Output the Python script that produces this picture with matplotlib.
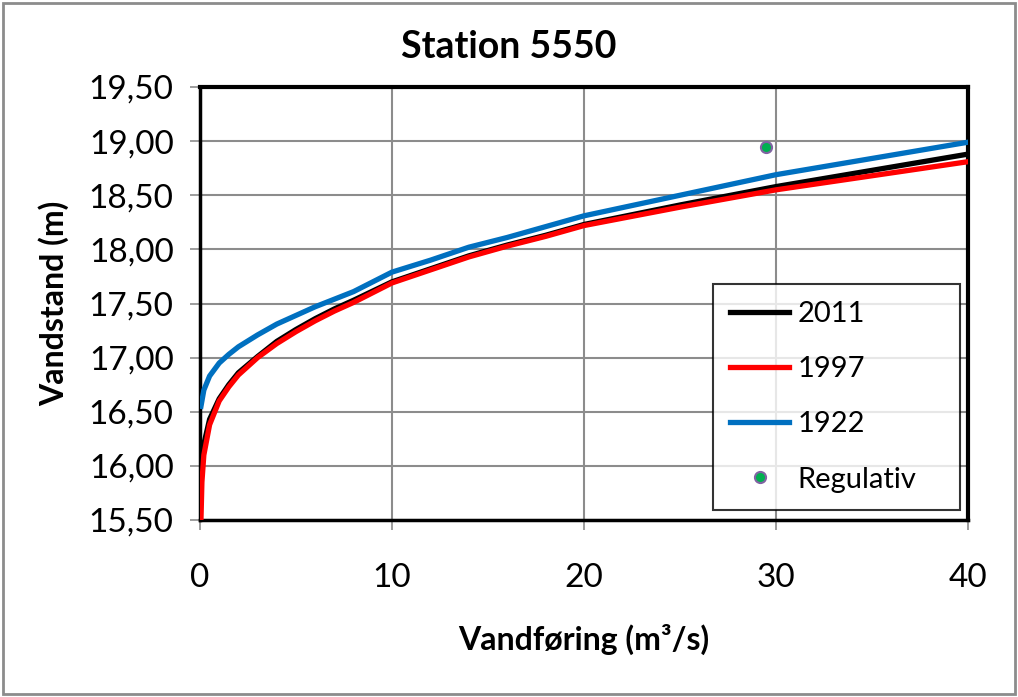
import numpy as np
import matplotlib.pyplot as plt
from matplotlib.patches import Rectangle
from matplotlib.ticker import FuncFormatter

# Aflæste værdier fra figuren
q_2011 = [0.0, 0.05, 0.2, 0.5, 1.0, 1.5, 2.0, 3.0, 4.0, 5.0, 6.0, 7.0, 8.0, 10.0,
          12.0, 14.0, 16.0, 18.0, 20.0, 25.0, 30.0, 35.0, 40.0]
h_2011 = [15.95, 16.05, 16.2, 16.43, 16.62, 16.75, 16.86, 17.01, 17.15, 17.26, 17.36,
          17.45, 17.53, 17.70, 17.82, 17.94, 18.04, 18.13, 18.23, 18.41, 18.58, 18.73, 18.88]

q_1997 = [0.05, 0.1, 0.2, 0.5, 1.0, 1.5, 2.0, 3.0, 4.0, 5.0, 6.0, 7.0, 8.0, 10.0,
          12.0, 14.0, 16.0, 18.0, 20.0, 25.0, 30.0, 35.0, 40.0]
h_1997 = [15.5, 15.85, 16.1, 16.38, 16.6, 16.73, 16.84, 17.0, 17.13, 17.24, 17.34,
          17.43, 17.51, 17.69, 17.81, 17.93, 18.03, 18.12, 18.22, 18.39, 18.55, 18.68, 18.81]

q_1922 = [0.05, 0.2, 0.5, 1.0, 1.5, 2.0, 3.0, 4.0, 5.0, 6.0, 7.0, 8.0, 10.0,
          12.0, 14.0, 16.0, 18.0, 20.0, 25.0, 30.0, 35.0, 40.0]
h_1922 = [16.55, 16.7, 16.83, 16.95, 17.03, 17.1, 17.21, 17.31, 17.39, 17.47, 17.54,
          17.61, 17.79, 17.90, 18.02, 18.11, 18.21, 18.31, 18.50, 18.69, 18.84, 18.99]

q_reg = [29.5]
h_reg = [18.95]

plt.rcParams['font.family'] = ['Lato', 'DejaVu Sans']

fig = plt.figure(figsize=(10.18, 6.97), dpi=100)
ax = fig.add_axes([200 / 1018, 1 - 520 / 697, 768 / 1018, 433 / 697])

ax.plot(q_1922, h_1922, color='#0070c0', lw=3.8, label='1922', zorder=3)
ax.plot(q_2011, h_2011, color='black', lw=3.8, label='2011', zorder=3)
ax.plot(q_1997, h_1997, color='#ff0000', lw=3.8, label='1997', zorder=4)
ax.plot(q_reg, h_reg, 'o', ms=8, mfc='#00b050', mec='#8064a2', mew=1.5,
        label='Regulativ', zorder=5)

ax.set_xlim(0, 40)
ax.set_ylim(15.5, 19.5)
ax.set_xticks(np.arange(0, 41, 10))
ax.set_yticks(np.arange(15.5, 19.51, 0.5))
ax.yaxis.set_major_formatter(FuncFormatter(lambda v, p: f'{v:.2f}'.replace('.', ',')))
ax.grid(True, color='#8c8c8c', lw=1.5)
ax.set_axisbelow(True)
ax.tick_params(labelsize=24, length=7, color='#8c8c8c', width=1.2)
ax.tick_params(axis='y', pad=12)
ax.tick_params(axis='x', pad=24)
for s in ax.spines.values():
    s.set_color('black')
    s.set_linewidth(2.5)
ax.spines['top'].set_linewidth(3)
ax.spines['right'].set_linewidth(3)

fig.text(0.5, 1 - 47 / 697, 'Station 5550', fontsize=27, fontweight='bold',
         ha='center', va='center')
ax.set_xlabel('Vandføring (m³/s)', fontsize=23, fontweight='bold', labelpad=22)
ax.set_ylabel('Vandstand (m)', fontsize=23, fontweight='bold', labelpad=14)

h, l = ax.get_legend_handles_labels()
order = [1, 2, 0, 3]
leg = ax.legend([h[i] for i in order], [l[i] for i in order],
                loc='upper left', bbox_to_anchor=(513 / 768, 236 / 433, 247 / 768, 0.001),
                mode='expand', fontsize=21,
                frameon=True, fancybox=False, edgecolor='black', borderaxespad=0,
                labelspacing=1.0, handlelength=2.0, handletextpad=0.3, borderpad=0.6)
leg.get_frame().set_linewidth(1.5)

fig.patches.append(Rectangle((0.003, 0.004), 0.994, 0.992, transform=fig.transFigure,
                             fill=False, edgecolor='#8c8c8c', lw=2))

fig.savefig('out.png', dpi=100)
